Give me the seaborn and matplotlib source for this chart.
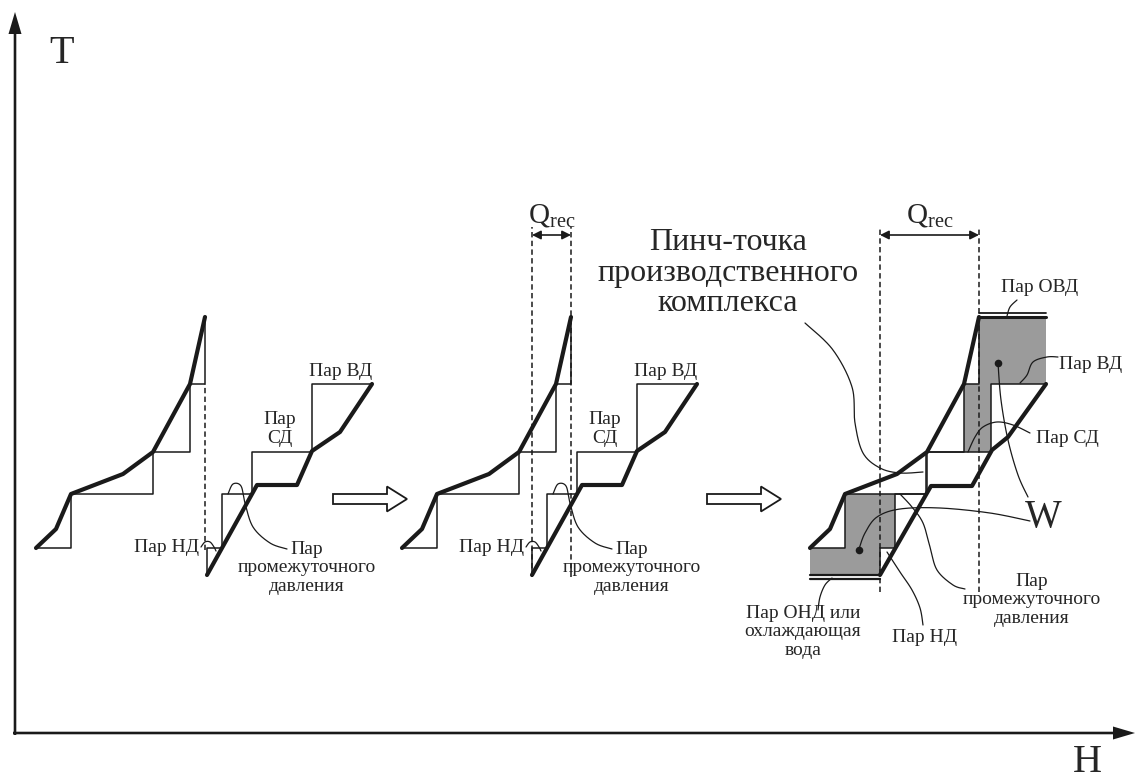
import numpy as np
import matplotlib
matplotlib.use('Agg')
import matplotlib.pyplot as plt
import seaborn as sns
from matplotlib.patches import FancyArrowPatch

# ---- данные схемы (H, T в условных единицах от начала осей) ----
steam_T = [185, 239, 281, 349]          # уровни пара: НД, промежуточный, СД, ВД
hot_H = [21, 41, 56, 108, 138, 175, 190]
hot_T = [185, 204, 239, 259, 281, 349, 416]
cold_H = [192, 242, 282, 297, 325, 357]
cold_T = [158, 248, 248, 282, 301, 349]
cold_H_rec = [192, 243, 284, 304, 320, 358]   # холодная кривая на третьей схеме
cold_T_rec = [158, 247, 247, 283, 296, 349]
hot_shift = [0, 366, 774]
cold_shift = [0, 325, 673]
dash_bottom = [156, 141]

sns.set_theme(style='white')
plt.rcParams['font.family'] = ['Liberation Serif', 'DejaVu Serif']
plt.rcParams['mathtext.fontset'] = 'custom'
plt.rcParams['mathtext.rm'] = 'Liberation Serif'

fig = plt.figure(figsize=(11.37, 7.84), dpi=100)
ax = fig.add_axes([0, 0, 1, 1])
ax.set_xlim(-15, 1122)
ax.set_ylim(-51, 733)
ax.axis('off')

FS = 14
LS = 1.15


def smooth(pts, n=25):
    # сплайн Катмулла-Рома через точки выноски
    p = np.asarray(pts, float)
    p = np.vstack([p[0], p, p[-1]])
    out = []
    t = np.linspace(0, 1, n)[:, None]
    for i in range(1, len(p) - 2):
        p0, p1, p2, p3 = p[i - 1], p[i], p[i + 1], p[i + 2]
        out.append(0.5 * (2 * p1 + (-p0 + p2) * t + (2 * p0 - 5 * p1 + 4 * p2 - p3) * t ** 2
                          + (-p0 + 3 * p1 - 3 * p2 + p3) * t ** 3))
    return np.vstack(out)


def leader(pts, dx=0):
    c = smooth(pts)
    ax.plot(c[:, 0] + dx, c[:, 1], color='k', lw=0.9, zorder=4)


def line(x, y, lw, **kw):
    sns.lineplot(x=np.asarray(x, float), y=np.asarray(y, float), sort=False, estimator=None,
                 color='k', lw=lw, ax=ax, **kw)


def stair_points(cH, cT):
    hsx = list(np.interp(steam_T, hot_T, hot_H)) + [hot_H[-1]]
    hsy = steam_T + [hot_T[-1]]
    csx = [cH[0]] + list(np.interp(steam_T, cT, cH))
    csy = [cT[0]] + steam_T
    return np.array(hsx), hsy, np.array(csx), csy


curves = [(cold_H, cold_T), (cold_H, cold_T), (cold_H_rec, cold_T_rec)]

for k in range(3):
    hs, cs = hot_shift[k], cold_shift[k]
    cH, cT = curves[k]
    hsx, hsy, csx, csy = stair_points(cH, cT)
    hsx = hsx + hs
    csx = csx + cs

    if k == 2:
        # области W
        L1, L2, L3, L4 = steam_T
        gx = [hsx[0], hsx[1], hsx[1], csx[1], csx[1], csx[0], csx[0], hsx[0]]
        gy = [L1, L1, L2, L2, L1, L1, cT[0], cT[0]]
        ax.fill(gx, gy, color='#9b9b9b', lw=0, zorder=1)
        gx = [hsx[3], hsx[3], hsx[4], hsx[4], csx[4], csx[4], csx[3], csx[3]]
        gy = [L3, L4, L4, hot_T[-1], hot_T[-1], L4, L4, L3]
        ax.fill(gx, gy, color='#9b9b9b', lw=0, zorder=1)
        # двойные линии ОВД и ОНД
        ax.plot([hsx[4], csx[4]], [hot_T[-1], hot_T[-1]], color='k', lw=2.2, zorder=3)
        ax.plot([hsx[4], csx[4]], [hot_T[-1] + 4.5, hot_T[-1] + 4.5], color='k', lw=1.3, zorder=3)
        ax.plot([hsx[0], csx[0]], [cT[0], cT[0]], color='k', lw=1.6, zorder=3)
        ax.plot([hsx[0], csx[0]], [cT[0] - 4, cT[0] - 4], color='k', lw=1.6, zorder=3)

    # ступенчатые линии пара
    line(hsx, hsy, 1.1, drawstyle='steps-post', zorder=2)
    line(csx, csy, 1.1, drawstyle='steps-pre', zorder=2)
    # составные кривые
    line(np.asarray(hot_H) + hs, hot_T, 3.0, zorder=5, solid_joinstyle='round')
    line(np.asarray(cH) + cs, cT, 3.0, zorder=5, solid_joinstyle='round')

    if k == 0:
        ax.plot([hsx[-1], hsx[-1]], [steam_T[0] - 2, steam_T[3]], color='k', lw=1.1,
                ls=(0, (3.5, 2.2)), zorder=3)
    else:
        xl, xr = csx[0], hsx[-1]
        ax.plot([xl, xl], [dash_bottom[k - 1], 506], color='k', lw=1.1, ls=(0, (3.5, 2.2)), zorder=3)
        ax.plot([xr, xr], [dash_bottom[k - 1], 506], color='k', lw=1.1, ls=(0, (3.5, 2.2)), zorder=3)
        ax.add_patch(FancyArrowPatch((xl, 498), (xr, 498), arrowstyle='<|-|>', mutation_scale=13,
                                     lw=1.2, color='k', shrinkA=0, shrinkB=0, zorder=6))
        ax.text((xl + xr) / 2, 518, r'$\mathrm{Q_{rec}}$', fontsize=21, ha='center', va='center')

    if k < 2:
        ax.text(184 + cs, 185, 'Пар НД', fontsize=FS, ha='right', va='center')
        leader([(186, 186), (190, 191), (195, 191), (199, 186), (201, 182)], cs)
        leader([(213, 239), (218, 249), (226, 247), (230, 230), (238, 206), (255, 190), (272, 184)], cs)
        ax.text(292 + cs, 165, 'Пар\nпромежуточного\nдавления', fontsize=FS, ha='center',
                va='center', linespacing=LS)
        ax.text(265 + cs, 304, 'Пар\nСД', fontsize=FS, ha='center', va='center', linespacing=LS)
        ax.text(326 + cs, 362, 'Пар ВД', fontsize=FS, ha='center', va='center')

# ---- подписи третьей схемы ----
ax.text(1025, 446, 'Пар ОВД', fontsize=FS, ha='center', va='center')
leader([(992, 417), (995, 426), (1002, 433)])
ax.text(1076, 369, 'Пар ВД', fontsize=FS, ha='center', va='center')
leader([(1043, 376), (1032, 376), (1018, 371), (1012, 358), (1005, 350)])
ax.text(1052, 295, 'Пар СД', fontsize=FS, ha='center', va='center')
leader([(1015, 300), (998, 308), (982, 311), (968, 306), (960, 296), (953, 281)])
ax.text(1028, 216, 'W', fontsize=28, ha='center', va='center')
leader([(983, 370), (986, 333), (993, 293), (1003, 258), (1013, 236)])
leader([(844, 184), (850, 200), (862, 216), (885, 224), (925, 225), (975, 220), (1015, 212)])
ax.scatter([983, 844], [370, 183], s=30, color='k', zorder=7, lw=0)
ax.text(1017, 133, 'Пар\nпромежуточного\nдавления', fontsize=FS, ha='center', va='center',
        linespacing=LS)
leader([(950, 144), (938, 148), (922, 163), (915, 186), (908, 210), (897, 226), (885, 239)])
ax.text(909, 95, 'Пар НД', fontsize=FS, ha='center', va='center')
leader([(908, 108), (905, 125), (897, 143), (885, 161), (872, 181)])
ax.text(788, 101, 'Пар ОНД или\nохлаждающая\nвода', fontsize=FS, ha='center', va='center',
        linespacing=LS)
leader([(803, 123), (805, 136), (810, 148), (817, 155)])
ax.text(713, 460, 'Пинч-точка\nпроизводственного\nкомплекса', fontsize=23, ha='center',
        va='center', linespacing=1.05)
leader([(790, 410), (818, 383), (837, 346), (840, 310), (848, 280), (865, 265), (885, 260), (908, 261)])

# ---- стрелки переходов ----
for x0 in [318, 692]:
    ax.arrow(x0, 234, 74, 0, width=10, head_width=25, head_length=20, length_includes_head=True,
             fc='white', ec='k', lw=1.3, zorder=3)

# ---- оси ----
ax.arrow(0, -2, 0, 723, width=2.6, head_width=13, head_length=22, length_includes_head=True,
         fc='k', ec='k', lw=0)
ax.arrow(-2, 0, 1122, 0, width=2.6, head_width=13, head_length=22, length_includes_head=True,
         fc='k', ec='k', lw=0)
ax.text(47, 680, 'T', fontsize=29, ha='center', va='center')
ax.text(1072, -29, 'H', fontsize=29, ha='center', va='center')

fig.savefig('out.png', dpi=100)
